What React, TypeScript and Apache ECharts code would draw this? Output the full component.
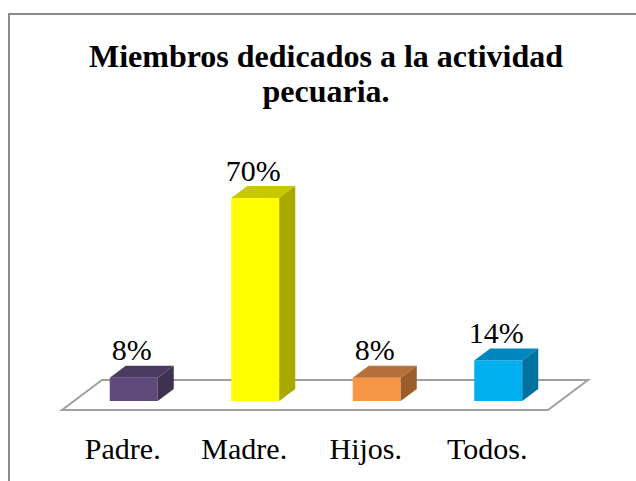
import React, { useEffect, useRef } from "react";
import * as echarts from "echarts";

const categories = ["Padre.", "Madre.", "Hijos.", "Todos."];
const values = [8, 70, 8, 14];
const frontColors = ["#604A7B", "#FFFF00", "#F79646", "#00B0F0"];
const topColors = ["#4B3B60", "#C8C800", "#B8703A", "#0088BE"];
const sideColors = ["#3F3152", "#A8A800", "#9A5C2B", "#0072A0"];
const titleText = "Miembros dedicados a la actividad\npecuaria.";
const SERIF = "Liberation Serif";

export default function App() {
  const ref = useRef<HTMLDivElement>(null);
  useEffect(() => {
    if (!ref.current) return;
    const chart = echarts.init(ref.current, undefined, { renderer: "svg" });
    const dx = 16;
    const dy = 12;
    chart.setOption({
      animation: false,
      backgroundColor: "#ffffff",
      textStyle: { fontFamily: SERIF },
      title: {
        text: titleText,
        left: 321,
        top: 33,
        textAlign: "center",
        textStyle: {
          fontFamily: SERIF,
          fontWeight: "bold",
          fontSize: 32,
          lineHeight: 35,
          color: "#000",
        },
      },
      graphic: [
        {
          type: "rect",
          z: 0,
          shape: { x: 9, y: 14, width: 700, height: 520 },
          style: { fill: "none", stroke: "#8c8c8c", lineWidth: 2 },
        },
        {
          type: "polygon",
          z: 0,
          shape: {
            points: [
              [62, 410],
              [548, 410],
              [588, 380],
              [102, 380],
            ],
          },
          style: { fill: "#ffffff", stroke: "#a0a0a0", lineWidth: 2 },
        },
      ],
      grid: { left: 62, right: 88, top: 111, bottom: 80 },
      xAxis: {
        type: "category",
        data: categories,
        axisLine: { show: false },
        axisTick: { show: false },
        axisLabel: {
          interval: 0,
          margin: 32,
          fontFamily: SERIF,
          fontSize: 30,
          color: "#000",
        },
      },
      yAxis: {
        type: "value",
        min: 0,
        max: 100,
        show: false,
        splitLine: { show: false },
      },
      series: [
        {
          type: "custom",
          z: 5,
          data: values.map((v, i) => [i, v]),
          renderItem: (params: any, api: any) => {
            const i = api.value(0);
            const v = api.value(1);
            const base = api.coord([i, 0]);
            const top = api.coord([i, v]);
            const bw = api.size([1, 0])[0] * 0.395;
            const cx = base[0] + 11;
            const x0 = cx - bw / 2;
            const x1 = cx + bw / 2;
            const yb = base[1];
            const yt = top[1];
            return {
              type: "group",
              children: [
                {
                  type: "polygon",
                  shape: { points: [[x0, yb], [x1, yb], [x1, yt], [x0, yt]] },
                  style: { fill: frontColors[i] },
                },
                {
                  type: "polygon",
                  shape: {
                    points: [[x0, yt], [x1, yt], [x1 + dx, yt - dy], [x0 + dx, yt - dy]],
                  },
                  style: { fill: topColors[i] },
                },
                {
                  type: "polygon",
                  shape: {
                    points: [[x1, yb], [x1 + dx, yb - dy], [x1 + dx, yt - dy], [x1, yt]],
                  },
                  style: { fill: sideColors[i] },
                },
                {
                  type: "text",
                  x: cx - 2,
                  y: yt - dy - 1,
                  style: {
                    text: v + "%",
                    font: "30px " + SERIF,
                    fill: "#000",
                    align: "center",
                    verticalAlign: "bottom",
                  },
                },
              ],
            };
          },
        },
      ],
    });
    return () => chart.dispose();
  }, []);
  return (
    <div
      ref={ref}
      style={{ position: "fixed", left: 0, top: 0, width: 636, height: 481 }}
    />
  );
}
